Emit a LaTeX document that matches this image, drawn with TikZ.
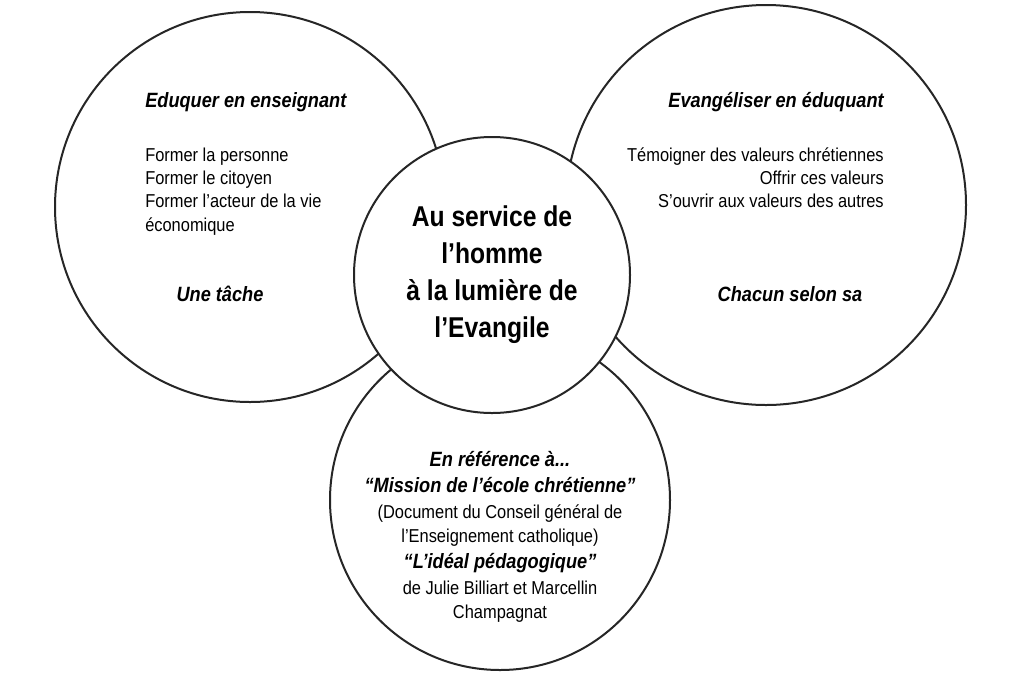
\documentclass[tikz,border=0pt]{standalone}
\usepackage{fontspec}
\setmainfont{Liberation Sans}
\begin{document}
\begin{tikzpicture}[x=0.75pt,y=-0.75pt,
  circ/.style={draw=black!85,line width=1.5pt,fill=white},
  t/.style={font=\fontsize{14}{16}\selectfont\addfontfeature{FakeStretch=0.88},inner sep=0pt,text height=1.6ex,text depth=0.4ex},
  ti/.style={font=\fontsize{15.5}{17}\selectfont\bfseries\itshape\addfontfeature{FakeStretch=0.88},inner sep=0pt,text height=1.6ex,text depth=0.4ex},
  big/.style={font=\fontsize{21.5}{24}\selectfont\bfseries\addfontfeature{FakeStretch=0.86},inner sep=0pt,text height=1.6ex,text depth=0.4ex}]
\useasboundingbox (0,0) rectangle (1024,683);
\node[circ,circle,minimum size=340*0.75pt] (cb) at (500,500) {};
\node[circ,circle,minimum size=390*0.75pt] (cl) at (250,207) {};
\node[circ,circle,minimum size=400*0.75pt] (cr) at (766,205) {};
\node[circ,circle,minimum size=276*0.75pt] (cc) at (492,275) {};
% left
\node[ti,anchor=west] (l0) at (145,103) {Eduquer en enseignant};
\node[t,anchor=west] (l1) at (145,157) {Former la personne};
\node[t,anchor=west] (l2) at (145,180) {Former le citoyen};
\node[t,anchor=west] (l3) at (145,203) {Former l’acteur de la vie};
\node[t,anchor=west] (l4) at (145,227) {économique};
\node[ti] (l5) at (220,297) {Une tâche};
% right
\node[ti,anchor=east] (r0) at (884,103) {Evangéliser en éduquant};
\node[t,anchor=east] (r1) at (884,157) {Témoigner des valeurs chrétiennes};
\node[t,anchor=east] (r2) at (884,180) {Offrir ces valeurs};
\node[t,anchor=east] (r3) at (884,203) {S’ouvrir aux valeurs des autres};
\node[ti] (r5) at (790,297) {Chacun selon sa};
% center
\node[big] (c1) at (492,222) {Au service de};
\node[big] (c2) at (492,259) {l’homme};
\node[big] (c3) at (492,296) {à la lumière de};
\node[big] (c4) at (492,333) {l’Evangile};
% bottom
\node[ti] (b1) at (500,462) {En référence à...};
\node[ti] (b2) at (500,488) {“Mission de l’école chrétienne”};
\node[t] (b3) at (500,514) {(Document du Conseil général de};
\node[t] (b4) at (500,538) {l’Enseignement catholique)};
\node[ti] (b5) at (500,564) {“L’idéal pédagogique”};
\node[t] (b6) at (500,590) {de Julie Billiart et Marcellin};
\node[t] (b7) at (500,614) {Champagnat};
\end{tikzpicture}
\end{document}
